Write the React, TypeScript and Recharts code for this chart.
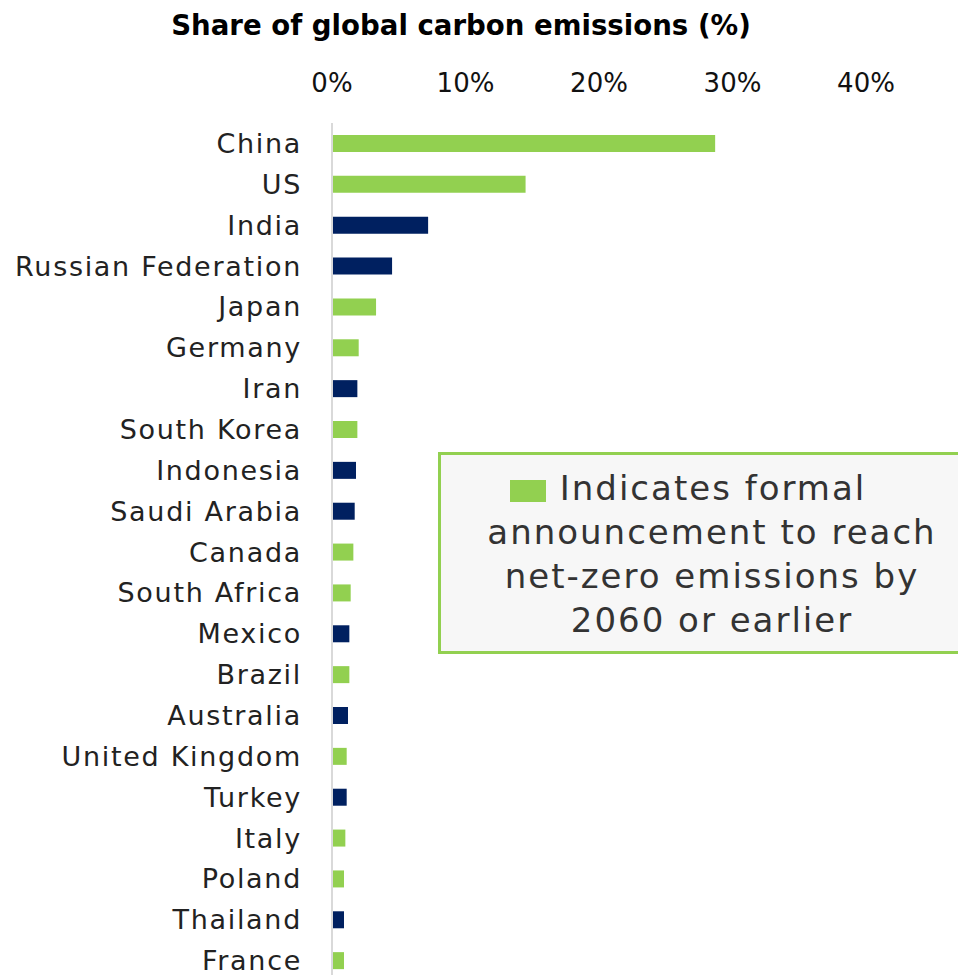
import { BarChart, Bar, XAxis, YAxis, Cell } from 'recharts'

const countries = ['China', 'US', 'India', 'Russian Federation', 'Japan', 'Germany', 'Iran', 'South Korea', 'Indonesia', 'Saudi Arabia', 'Canada', 'South Africa', 'Mexico', 'Brazil', 'Australia', 'United Kingdom', 'Turkey', 'Italy', 'Poland', 'Thailand', 'France']
const shares = [28.7, 14.5, 7.2, 4.5, 3.3, 2.0, 1.9, 1.9, 1.8, 1.7, 1.6, 1.4, 1.3, 1.3, 1.2, 1.1, 1.1, 1.0, 0.9, 0.9, 0.9]
const netZero = [true, true, false, false, true, true, false, true, false, false, true, true, false, true, false, true, false, true, true, false, true]
const xTicks = [0, 10, 20, 30, 40]

const GREEN = '#92D050'
const NAVY = '#002060'
const FONT = '"DejaVu Sans", sans-serif'

const data = countries.map((name, i) => ({ name, share: shares[i], netZero: netZero[i] }))

const CountryTick = (props: any) => {
  const { x, y, payload } = props
  return (
    <text x={x} y={y} textAnchor="end" dominantBaseline="central" fontSize={27} letterSpacing={1.7} fill="#222" fontFamily={FONT}>
      {payload.value}
    </text>
  )
}

const PctTick = (props: any) => {
  const { x, y, payload } = props
  return (
    <text x={x} y={y} textAnchor="middle" fontSize={26} fill="#111" fontFamily={FONT}>
      {payload.value}%
    </text>
  )
}

export default function App() {
  return (
    <div style={{ position: 'absolute', left: 0, top: 0, width: 958, height: 975, overflow: 'hidden', background: '#fff' }}>
      <div style={{ position: 'absolute', left: 0, top: 9, width: 922, textAlign: 'center', fontFamily: FONT, fontWeight: 700, fontSize: 27.6, color: '#000' }}>
        Share of global carbon emissions (%)
      </div>
      <BarChart width={958} height={990} data={data} layout="vertical" margin={{ top: 73, right: 92, bottom: 9, left: 0 }}>
        <XAxis type="number" orientation="top" domain={[0, 40]} ticks={xTicks} axisLine={false} tickLine={false} tickSize={0} tickMargin={31} height={50} tick={<PctTick />} />
        <YAxis type="category" dataKey="name" width={332} axisLine={{ stroke: '#d9d9d9', strokeWidth: 2 }} tickLine={false} tickSize={0} tickMargin={30} interval={0} tick={<CountryTick />} />
        <Bar dataKey="share" barSize={17} isAnimationActive={false}>
          {data.map((d, i) => (
            <Cell key={i} fill={d.netZero ? GREEN : NAVY} />
          ))}
        </Bar>
      </BarChart>
      <div style={{ position: 'absolute', left: 438, top: 452, width: 560, height: 202, background: '#f7f7f7', border: `3px solid ${GREEN}`, fontFamily: FONT, fontSize: 34, letterSpacing: 2, color: '#333', lineHeight: '44px', textAlign: 'center', paddingTop: 11, boxSizing: 'border-box', paddingRight: 12 }}>
        <span style={{ position: 'relative', left: -24 }}>
          <span style={{ display: 'inline-block', width: 36, height: 22, background: GREEN, marginRight: 14, verticalAlign: 'middle' }} />
          Indicates formal
        </span><br />
        announcement to reach<br />
        net-zero emissions by<br />
        2060 or earlier
      </div>
    </div>
  )
}
